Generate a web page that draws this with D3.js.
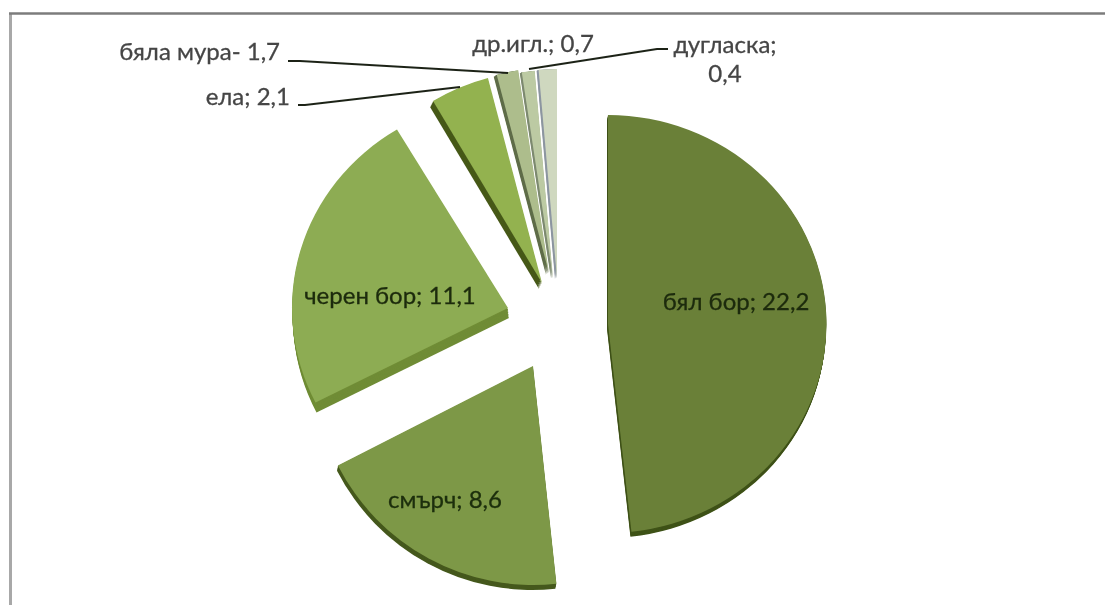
<!DOCTYPE html>
<html><head><meta charset="utf-8">
<script src="https://cdn.jsdelivr.net/npm/d3@7/dist/d3.min.js"></script>
<style>html,body{margin:0;padding:0;background:#fff}svg{display:block}text{font-family:Lato,"Open Sans",sans-serif}</style>
</head><body><svg id="c" width="1105" height="605"></svg>
<script>
const species = ["бял бор","смърч","черен бор","ела","бяла мура","др.игл.","дугласка"];
const labelValues = ["22,2","8,6","11,1","2,1","1,7","0,7","0,4"];
// angular share of each slice as it is drawn in the picture (percent)
const drawnShares = [48.3,19.2,23.9,4.5,1.7,1.0,1.4];
const topColors = ["#6b8039","#7d9846","#8dac52","#93b24f","#adbd8c","#bccaa3","#cfd8bf"];
const sideColors = ["#3f5218","#45591c","#6f8c35","#46591a","#5f6d48","#7d8a70","#8d96a0"];

const W=1105,H=605,cx=553,cy=319;
const explode=[[55,5],[-20,47],[-45,-11],[-11,-36],[-4,-46],[0,-41],[4,-41]];
const radii=[[219,209],[219,219],[216,208],[212,212],[205,205],[208,208],[209,209]];
const depth=[[-1,5],[-1,5],[1,10],[-3,6],[-3,2],[-2,1],[-2,1]];

const svg=d3.select("#c");
const defs=svg.append("defs");
defs.append("filter").attr("id","soft").append("feGaussianBlur").attr("stdDeviation",0.7);
const g=svg.append("g").attr("filter","url(#soft)");
g.append("path").attr("d","M10.5,605V13").attr("fill","none").attr("stroke","#a8a8a8").attr("stroke-width",3);
g.append("path").attr("d","M9,13.5H1105").attr("fill","none").attr("stroke","#7c7c7c").attr("stroke-width",2.5);

const pie=d3.pie().sort(null)(drawnShares);
const arc=d3.arc().innerRadius(0).outerRadius(1);
pie.forEach((d,i)=>{
  const path=arc({startAngle:d.startAngle,endAngle:d.endAngle});
  const place=(ox,oy)=>`translate(${cx+explode[i][0]+ox},${cy+explode[i][1]+oy}) scale(${radii[i][0]},${radii[i][1]})`;
  const [dx,dy]=depth[i];
  d3.range(1,7).reverse().forEach(k=>{
    g.append("path").attr("d",path).attr("fill",sideColors[i]).attr("transform",place(dx*k/6,dy*k/6));
  });
  g.append("path").attr("d",path).attr("fill",topColors[i]).attr("transform",place(0,0));
});

const leaders=[
 "M288,61H300L508,73",
 "M298,105H305L460,87",
 "M529,69L657,49H668"
];
leaders.forEach(p=>g.append("path").attr("d",p).attr("fill","none").attr("stroke","#1d2418").attr("stroke-width",2));

const lab=(t,x,y,anchor,fill)=>{const c=fill||"#454545";return g.append("text").attr("x",x).attr("y",y).attr("text-anchor",anchor||"middle").attr("font-size",24).attr("fill",c).attr("stroke",c).attr("stroke-width",0.3).text(t);};
lab(`${species[0]}; ${labelValues[0]}`,736,310,"middle","#1c2a0c");
lab(`${species[1]}; ${labelValues[1]}`,445,508,"middle","#1c2e0c");
lab(`${species[2]}; ${labelValues[2]}`,390,304,"middle","#1c2a0c");
lab(`${species[3]}; ${labelValues[3]}`,290,105,"end");
lab(`${species[4]}- ${labelValues[4]}`,280,60,"end");
lab(`${species[5]}; ${labelValues[5]}`,533,52,"middle");
lab(`${species[6]};`,725,53,"middle");
lab(labelValues[6],725,82,"middle");
</script></body></html>
